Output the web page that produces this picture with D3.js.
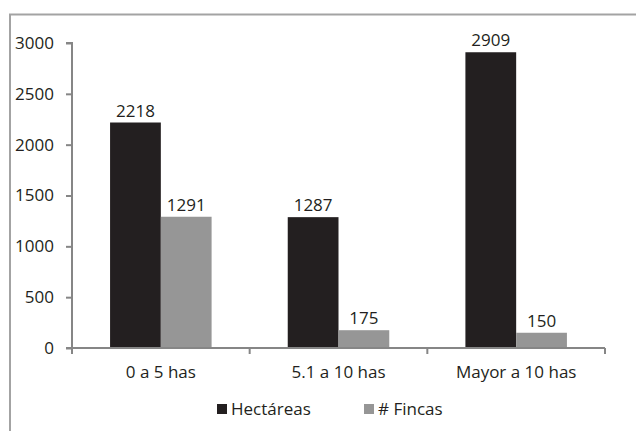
<!DOCTYPE html>
<html>
<head>
<meta charset="utf-8">
<script src="https://cdn.jsdelivr.net/npm/d3@7"></script>
<style>
  html, body { margin: 0; padding: 0; background: #fff; }
  svg { display: block; }
  text { font-family: "Open Sans", "DejaVu Sans", sans-serif; fill: #231f20; }
</style>
</head>
<body>
<svg id="chart" width="636" height="431"></svg>
<script>
// Superficie y número de fincas por rango de tamaño
const categories = ["0 a 5 has", "5.1 a 10 has", "Mayor a 10 has"];
const seriesNames = ["Hectáreas", "# Fincas"];
const hectareas = [2218, 1287, 2909];
const fincas = [1291, 175, 150];
const yTicks = [0, 500, 1000, 1500, 2000, 2500, 3000];
const colors = ["#231f20", "#969696"];

const svg = d3.select("#chart");
const W = 636, H = 431;
const margin = { left: 72, right: 31, top: 43, bottom: 83 };
const x0 = margin.left, x1 = W - margin.right;
const yBase = H - margin.bottom;
const fs = "17px";

// outer frame (extends past the right and bottom edges)
svg.append("path")
  .attr("d", `M10,${H + 5} L10,14.5 L${W + 5},14.5`)
  .attr("fill", "none")
  .attr("stroke", "#a3a3a3")
  .attr("stroke-width", 2);

const x = d3.scaleBand().domain(categories).range([x0, x1]).paddingInner(0).paddingOuter(0);
const inner = d3.scaleBand().domain(seriesNames).range([0, x.bandwidth()])
  .paddingOuter(0.75).paddingInner(0);
const y = d3.scaleLinear().domain([0, 3000]).range([yBase, margin.top]);

const table = categories.map((c, i) => ({ cat: c, values: [hectareas[i], fincas[i]] }));

// bars
const groups = svg.append("g").selectAll("g").data(table).join("g")
  .attr("transform", d => `translate(${x(d.cat)},0)`);
groups.selectAll("rect").data(d => d.values.map((v, j) => ({ v, j })))
  .join("rect")
  .attr("x", d => inner(seriesNames[d.j]))
  .attr("width", inner.bandwidth())
  .attr("y", d => y(d.v))
  .attr("height", d => yBase - y(d.v))
  .attr("fill", d => colors[d.j]);

// value labels
groups.selectAll("text.val").data(d => d.values.map((v, j) => ({ v, j })))
  .join("text")
  .attr("class", "val")
  .attr("x", d => inner(seriesNames[d.j]) + inner.bandwidth() / 2)
  .attr("y", d => y(d.v) - 6)
  .attr("text-anchor", "middle")
  .style("font-size", fs)
  .text(d => d.v);

// y axis
const yAxis = d3.axisLeft(y).tickValues(yTicks).tickFormat(d3.format("d"))
  .tickSize(6).tickPadding(12);
const gy = svg.append("g").attr("transform", `translate(${x0},0)`).call(yAxis);
gy.selectAll(".domain").attr("stroke", "#868686").attr("stroke-width", 2)
  .attr("d", `M-6,${margin.top}H0V${yBase}H-6`);
gy.selectAll(".tick line").attr("stroke", "#868686").attr("stroke-width", 2);
gy.selectAll(".tick text").style("font-size", fs)
  .style("font-family", "'Open Sans', sans-serif").attr("fill", "#231f20");

// x axis: ticks at category boundaries
const gx = svg.append("g").attr("transform", `translate(0,${yBase})`);
gx.append("line").attr("x1", x0).attr("x2", x1).attr("y1", 0).attr("y2", 0)
  .attr("stroke", "#868686").attr("stroke-width", 2);
const boundaries = categories.map(c => x(c)).concat([x1]);
gx.selectAll("line.tk").data(boundaries).join("line")
  .attr("class", "tk")
  .attr("x1", d => d).attr("x2", d => d).attr("y1", 0).attr("y2", 6)
  .attr("stroke", "#868686").attr("stroke-width", 2);
gx.selectAll("text").data(categories).join("text")
  .attr("x", d => x(d) + x.bandwidth() / 2)
  .attr("y", 30)
  .attr("text-anchor", "middle")
  .style("font-size", fs)
  .text(d => d);

// legend
const legendX = [217, 364];
const lg = svg.append("g").selectAll("g").data(seriesNames).join("g")
  .attr("transform", (d, i) => `translate(${legendX[i]},404)`);
lg.append("rect").attr("width", 10).attr("height", 10).attr("fill", (d, i) => colors[i]);
lg.append("text").attr("x", 14).attr("y", 11).style("font-size", fs).text(d => d);
</script>
</body>
</html>
